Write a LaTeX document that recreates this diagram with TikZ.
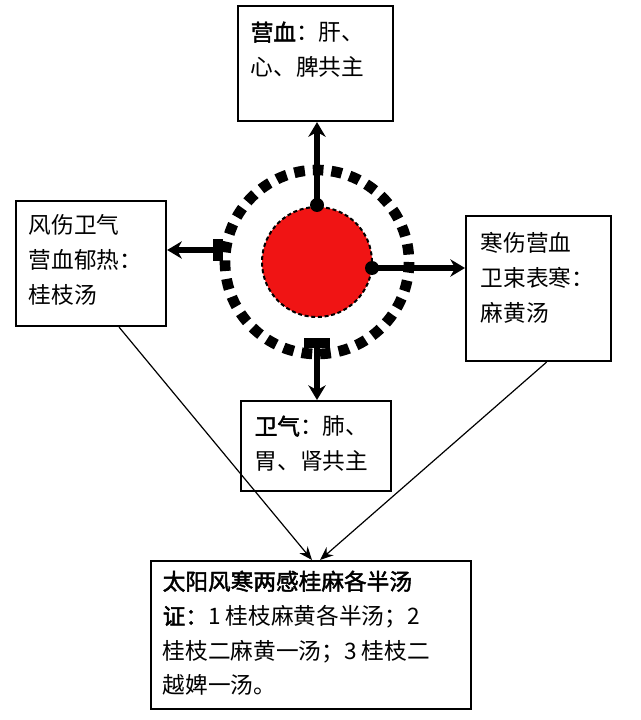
\documentclass[tikz,border=0pt]{standalone}
\usepackage{fontspec}
\setmainfont{Noto Sans CJK SC}
\newfontfamily\cjkbold[FakeBold=2]{Noto Sans CJK SC}
\usetikzlibrary{arrows.meta}
\definecolor{coreRed}{RGB}{240,20,20}
\tikzset{
    % box style for the four organs and the bottom box
    punkt/.style={
           rectangle,
           draw=black, line width=1.6pt,
           inner sep=0pt},
    % text inside the boxes
    txt/.style={
           anchor=north west,
           align=left,
           font=\fontsize{17}{26}\selectfont},
    % thick arrows from the core
    pil/.style={
           -{Stealth[length=11pt,width=13pt]},
           line width=4pt},
    % thin arrows to the bottom box
    thin pil/.style={
           -{Stealth[length=10pt,width=8pt]},
           line width=0.9pt},
}
\begin{document}
\begin{tikzpicture}[x=0.75pt,y=-0.75pt]
\useasboundingbox (0,0) rectangle (640,720);
% boxes
\node[punkt, minimum width=155*0.75pt, minimum height=115*0.75pt, anchor=north west] (ying) at (237,5) {};
\node[txt] at (246,17) {{\cjkbold 营血}：肝、\\心、脾共主};
\node[punkt, minimum width=150*0.75pt, minimum height=125*0.75pt, anchor=north west] (feng) at (15,200) {};
\node[txt] at (24,210) {风伤卫气\\营血郁热：\\桂枝汤};
\node[punkt, minimum width=145*0.75pt, minimum height=145*0.75pt, anchor=north west] (han) at (465,215) {};
\node[txt] at (476,228) {寒伤营血\\卫束表寒：\\麻黄汤};
\node[punkt, minimum width=150*0.75pt, minimum height=90*0.75pt, anchor=north west] (wei) at (240,400) {};
\node[txt] at (250,411) {{\cjkbold 卫气}：肺、\\胃、肾共主};
\node[punkt, minimum width=320*0.75pt, minimum height=148*0.75pt, anchor=north west] (zheng) at (150,560) {};
\node[txt] at (158,566) {{\cjkbold 太阳风寒两感桂麻各半汤}\\{\cjkbold 证：}1 桂枝麻黄各半汤；2\\桂枝二麻黄一汤；3 桂枝二\\越婢一汤。};
% core
\node[circle, fill=coreRed, draw=black, line width=1.5pt, densely dashed, minimum size=110*0.75pt, inner sep=0pt] (core) at (317,262) {};
\draw[line width=8pt, dash pattern=on 8pt off 6pt] (core.center) circle (92);
% arrows
\coordinate (cU) at (317,205);
\coordinate (cL) at (218,250);
\coordinate (cR) at (372,268);
\coordinate (cD) at (317,343);
\draw[pil] (cU) -- (ying.south -| cU);
\draw[pil] (cL) -- (feng.east |- cL);
\draw[pil] (cR) -- (han.west |- cR);
\draw[pil] (cD) -- (wei.north -| cD);
\fill (cU) circle (7); \fill (cR) circle (7);
\draw[line width=7pt] (cL) ++(0,-11) -- ++(0,22);
\draw[line width=7pt] (cD) ++(-13,0) -- ++(26,0);
\draw[thin pil] (feng.south) ++(28,0) -- (312,560);
\draw[thin pil] (han.south) ++(8,0) -- (320,560);
\end{tikzpicture}
\end{document}
